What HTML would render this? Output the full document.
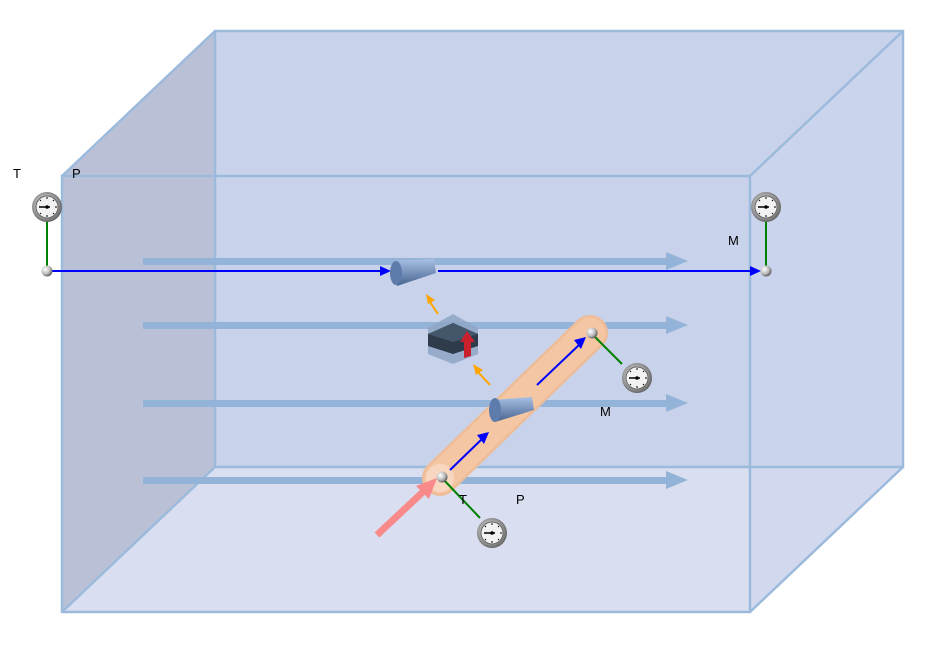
<!DOCTYPE html>
<html><head><meta charset="utf-8"><style>
html,body{margin:0;padding:0;background:#fff;}
svg{display:block;font-family:"Liberation Sans",sans-serif;}
</style></head><body>
<svg width="942" height="649" viewBox="0 0 942 649" xmlns="http://www.w3.org/2000/svg">
<defs>
<radialGradient id="ball" cx="0.35" cy="0.35" r="0.7"><stop offset="0" stop-color="#fff"/><stop offset="0.6" stop-color="#bbb"/><stop offset="1" stop-color="#555"/></radialGradient>
<radialGradient id="gface" cx="0.45" cy="0.45" r="0.6"><stop offset="0" stop-color="#ddd"/><stop offset="0.6" stop-color="#aaa"/><stop offset="1" stop-color="#555"/></radialGradient>
<linearGradient id="noz" x1="0" y1="0" x2="0" y2="1"><stop offset="0" stop-color="#a8c0e4"/><stop offset="1" stop-color="#46638f"/></linearGradient>
<g id="gauge"><circle r="15" fill="url(#gface)"/><circle r="11" fill="#f2f2f2" stroke="#666" stroke-width="1"/>
<g stroke="#000" stroke-width="1"><line x1="0" y1="-10" x2="0" y2="-8"/><line x1="7" y1="-7" x2="6" y2="-6"/><line x1="10" y1="0" x2="8" y2="0"/><line x1="7" y1="7" x2="6" y2="6"/><line x1="0" y1="10" x2="0" y2="8"/><line x1="-7" y1="7" x2="-6" y2="6"/><line x1="-7" y1="-7" x2="-6" y2="-6"/></g>
<line x1="-8" y1="0" x2="3" y2="0" stroke="#000" stroke-width="1.5"/><circle r="1.8" fill="#000"/></g>
<g id="ball1"><circle r="5.5" fill="url(#ball)"/></g>
</defs>
<polygon points="62,176 215,31 903,31 903,467 750,612 62,612" fill="#c8d2ea"/>
<polygon points="62,176 215,31 215,467 62,612" fill="#bac1d7"/>
<polygon points="62,612 215,467 903,467 750,612" fill="#d9dff1"/>
<polygon points="750,176 903,31 903,467 750,612" fill="#cdd6ee" opacity="0.6"/>
<g fill="none" stroke="#9cbbdc" stroke-width="2.5">
<rect x="215" y="31" width="688" height="436"/>
<rect x="62" y="176" width="688" height="436"/>
<line x1="62" y1="176" x2="215" y2="31"/><line x1="750" y1="176" x2="903" y2="31"/>
<line x1="62" y1="612" x2="215" y2="467"/><line x1="750" y1="612" x2="903" y2="467"/>
</g>
<g fill="#93b4d8">
<rect x="143" y="258" width="526" height="7"/><polygon points="666,252 688,261 666,270"/>
<rect x="143" y="322" width="526" height="7"/><polygon points="666,316 688,325 666,334"/>
<rect x="143" y="400" width="526" height="7"/><polygon points="666,394 688,403 666,412"/>
<rect x="143" y="477" width="526" height="7"/><polygon points="666,471 688,480 666,489"/>
</g>
<line x1="47" y1="271" x2="385" y2="271" stroke="#0000ff" stroke-width="2"/>
<polygon points="380,266 391,271 380,276" fill="#0000ff"/>
<line x1="438" y1="271" x2="755" y2="271" stroke="#0000ff" stroke-width="2"/>
<polygon points="750,266 761,271 750,276" fill="#0000ff"/>
<polygon points="394,261 434,259 436,273 397,286" fill="url(#noz)"/>
<ellipse cx="396" cy="273" rx="6" ry="12" fill="#5d7cab"/>
<line x1="440" y1="478" x2="590" y2="333" stroke="#eebd98" stroke-width="36" stroke-linecap="round"/>
<line x1="440" y1="478" x2="590" y2="333" stroke="#f5c6a3" stroke-width="31" stroke-linecap="round"/>
<circle cx="440" cy="478" r="14" fill="#f9d6c0"/>
<line x1="377" y1="535" x2="425" y2="490" stroke="#f88a8a" stroke-width="7"/>
<polygon points="416,486 437,478 429,499" fill="#f88a8a"/>
<line x1="450" y1="470" x2="482" y2="439" stroke="#0000ff" stroke-width="2"/>
<polygon points="477,435 489,432 484,444" fill="#0000ff"/>
<line x1="537" y1="385" x2="580" y2="344" stroke="#0000ff" stroke-width="2"/>
<polygon points="574,340 586,337 581,349" fill="#0000ff"/>
<polygon points="492,400 532,397 534,410 495,422" fill="url(#noz)"/>
<ellipse cx="495" cy="410" rx="6" ry="12" fill="#5d7cab"/>
<polygon points="428,328 453,314 478,328 478,354 453,364 428,354" fill="#8ea6c4" opacity="0.85"/>
<polygon points="428,334 453,323 478,334 478,346 453,354 428,346" fill="#2e3b4a"/>
<polygon points="428,334 453,323 478,334 453,342" fill="#44566a"/>
<polygon points="464,358 464,342 460,342 467,331 475,342 471,342 471,356" fill="#c8202c"/>
<line x1="490" y1="385" x2="478" y2="372" stroke="#ffa500" stroke-width="2"/>
<polygon points="473,364 483,370 476,375" fill="#ffa500"/>
<line x1="438" y1="314" x2="430" y2="302" stroke="#ffa500" stroke-width="2"/>
<polygon points="426,294 435,300 428,304" fill="#ffa500"/>
<line x1="47" y1="271" x2="47" y2="220" stroke="#008000" stroke-width="2"/>
<use href="#gauge" x="47" y="207"/>
<use href="#ball1" x="47" y="271"/>
<line x1="766" y1="271" x2="766" y2="220" stroke="#008000" stroke-width="2"/>
<use href="#gauge" x="766" y="207"/>
<use href="#ball1" x="766" y="271"/>
<line x1="592" y1="334" x2="622" y2="364" stroke="#008000" stroke-width="2"/>
<use href="#gauge" x="637" y="378"/>
<use href="#ball1" x="592" y="333"/>
<line x1="442" y1="478" x2="480" y2="518" stroke="#008000" stroke-width="2"/>
<use href="#gauge" x="492" y="533"/>
<use href="#ball1" x="442" y="477"/>
<g font-size="13" fill="#000">
<text x="13" y="178">T</text><text x="72" y="178">P</text>
<text x="728" y="245">M</text>
<text x="600" y="416">M</text>
<text x="459" y="504">T</text><text x="516" y="504">P</text>
</g>
</svg>
</body></html>
